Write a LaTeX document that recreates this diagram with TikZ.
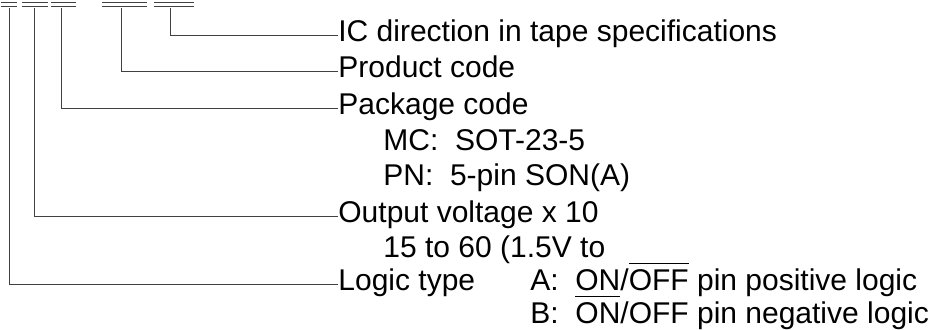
\documentclass[tikz,border=0pt]{standalone}
\usepackage{fontspec}
\setmainfont{Liberation Sans}
\usepackage{tikz}
\usetikzlibrary{positioning}
\tikzstyle{lead} = [draw=black!75, line width=0.5pt]
\newsavebox{\ovlbox}
\newcommand{\ovl}[1]{\sbox{\ovlbox}{#1}\rlap{\rule[0.86em]{\wd\ovlbox}{0.7pt}}\usebox{\ovlbox}}

\begin{document}
\begin{tikzpicture}[x=0.5pt, y=-0.5pt, lbl/.style={anchor=base west, inner sep=0pt, text height=0.6em, text depth=0pt, font=\fontsize{15}{18}\selectfont}]
    \useasboundingbox (0,0) rectangle (931,329);
    \foreach \n/\a/\b/\c in {1/1/17/9, 2/22/48/34, 3/51/76/61, 4/102/147/121, 5/154/194/170} {
        \draw[lead] (\a,2.5) -- (\b,2.5) (\a,6.5) -- (\b,6.5);
        \coordinate (b\n) at (\c,8);
    }
    \node[lbl] (ic) at (338,41) {IC direction in tape specifications};
    \node[lbl] (prod) at (338,77) {Product code};
    \node[lbl] (pkg) at (338,114) {Package code};
    \node[lbl] (mc) at (383,150) {MC:\ \ SOT-23-5};
    \node[lbl] (pn) at (383,185) {PN:\ \ 5-pin SON(A)};
    \node[lbl] (vout) at (338,222) {Output voltage x 10};
    \node[lbl] (range) at (383,257) {15 to 60 (1.5V to};
    \node[lbl] (logic) at (338,290) {Logic type};
    \node[lbl] (posa) at (530,290) {A:\ \ ON/\ovl{OFF} pin positive logic};
    \node[lbl] (negb) at (530,323) {B:\ \ \ovl{ON}/OFF pin negative logic};
    \draw[lead] (b5) |- (ic.west);
    \draw[lead] (b4) |- (prod.west);
    \draw[lead] (b3) |- (pkg.west);
    \draw[lead] (b2) |- (vout.west);
    \draw[lead] (b1) |- (logic.west);
\end{tikzpicture}
\end{document}
